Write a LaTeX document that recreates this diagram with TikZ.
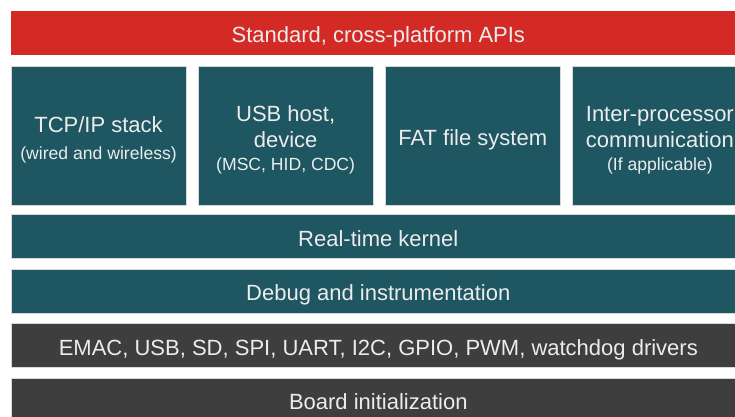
\documentclass[tikz,border=0pt]{standalone}
\usepackage{fontspec}
\setmainfont{Liberation Sans}
\usetikzlibrary{positioning}
\definecolor{apired}{RGB}{211,42,38}
\definecolor{stackteal}{RGB}{30,86,97}
\definecolor{drvgrey}{RGB}{62,62,62}
\definecolor{labelgrey}{RGB}{236,236,236}
\newcommand{\mainsize}{\fontsize{22}{26}\selectfont}
\newcommand{\notesize}{\fontsize{17.6}{20}\selectfont}
\newcommand{\topgap}{\rule{0pt}{24pt}}

\begin{document}
\begin{tikzpicture}[
  x=1pt, y=-1pt,
  every node/.style={inner sep=0pt, text=labelgrey, font=\mainsize, draw=gray!30, line width=0.6pt},
  bar/.style={minimum width=734pt, minimum height=44pt, text height=19pt, text depth=0pt},
  layer/.style={bar, fill=stackteal},
  driver/.style={bar, fill=drvgrey},
  svc/.style={fill=stackteal, minimum width=174.5pt, minimum height=139pt, align=center},
  ]
  \clip (0,0) rectangle (735,416);
  \fill[white] (0,0) rectangle (735,416);
  \node[bar, fill=apired, draw=none, anchor=north west] (api) at (11,11) {Standard, cross-platform APIs};
  \node[svc, below = 10pt of api.south west, anchor=north west] (tcp) {\topgap TCP/IP stack\\[1pt]{\notesize (wired and wireless)}};
  \node[svc, right = 12pt of tcp] (usb) {\topgap USB host,\\device\\[-3pt]{\notesize (MSC, HID, CDC)}};
  \node[svc, right = 12pt of usb] (fat) {\topgap FAT file system};
  \node[svc, right = 12pt of fat] (ipc) {\topgap Inter-processor\\communication\\[-3pt]{\notesize (If applicable)}};
  \node[layer, below = 9pt of tcp.south west, anchor=north west] (rtk) {Real-time kernel};
  \node[layer, below = 10pt of rtk] (dbg) {Debug and instrumentation};
  \node[driver, below = 10pt of dbg] (drv) {EMAC, USB, SD, SPI, UART, I2C, GPIO, PWM, watchdog drivers};
  \node[driver, below = 10pt of drv] (brd) {Board initialization};
\end{tikzpicture}
\end{document}
